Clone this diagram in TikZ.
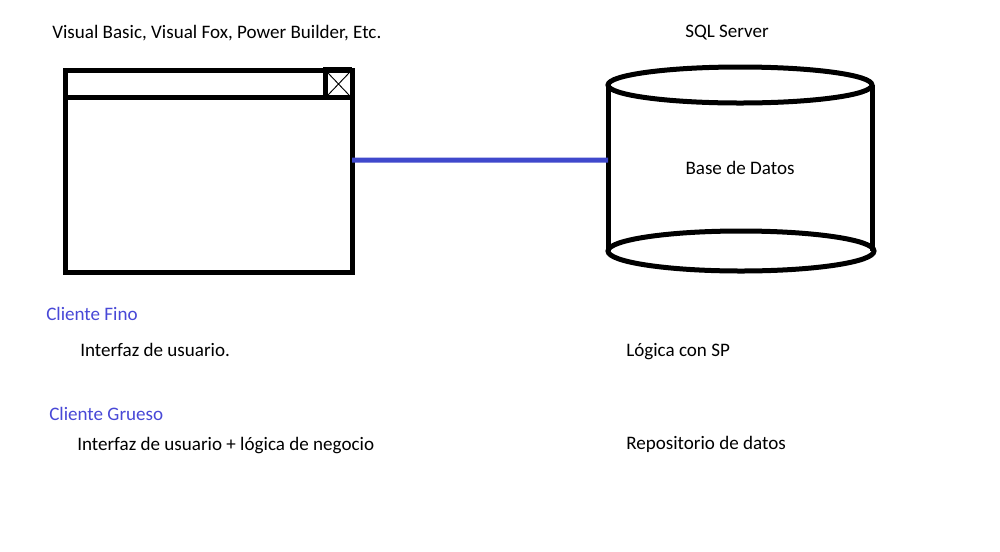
\documentclass[tikz,border=0pt]{standalone}
\usepackage{fontspec}
\setmainfont{Carlito}
\definecolor{indigo}{RGB}{63,72,204}
\definecolor{lblue}{RGB}{72,72,215}
\begin{document}
\begin{tikzpicture}[x=0.75pt,y=-0.75pt,
  thick line/.style={line width=3.75pt},
  lbl/.style={anchor=base west,inner sep=0pt,font=\fontsize{14.3pt}{17pt}\selectfont},
  bluelbl/.style={lbl,text=lblue}]
\useasboundingbox[fill=white] (0,0) rectangle (1000,551);
% window
\node[draw,thick line,minimum width=286.5*0.75pt,minimum height=201.3*0.75pt,inner sep=0pt,outer sep=0pt,anchor=north west] (win) at (65.5,70.7) {};
\draw[thick line] (65.5,97.3) -- (352,97.3);
\draw[thick line] (325,69) -- (325,97.3);
\draw[thick line] (323,69.5) -- (352,69.5);
\draw[line width=0.7pt] (328,73) -- (349,95) (349,73) -- (328,95);
% cylinder
\node[minimum width=264*0.75pt,minimum height=166*0.75pt,inner sep=0pt,outer sep=0pt,lbl,anchor=center] (cyl) at (740,168) {Base de Datos};
\draw[thick line] (740,85) ellipse [x radius=132,y radius=18];
\draw[thick line] (608,85) -- (608,251) (872,85) -- (872,251);
\draw[thick line] (741,251) ellipse [x radius=133,y radius=20];
% connector
\draw[indigo,line width=3.75pt] ([yshift=8.5pt]win.east) -- ([yshift=6pt]cyl.west);
% texts
\node[lbl] (t1) at (52,38) {Visual Basic, Visual Fox, Power Builder, Etc.};
\node[lbl] (t2) at (685,37) {SQL Server};
\node[bluelbl] (t3) at (46,320) {Cliente Fino};
\node[lbl] (t4) at (80,356) {Interfaz de usuario.};
\node[bluelbl] (t5) at (49,420) {Cliente Grueso};
\node[lbl] (t6) at (77,450) {Interfaz de usuario + lógica de negocio};
\node[lbl] (t7) at (626,356) {Lógica con SP};
\node[lbl] (t8) at (626,449) {Repositorio de datos};
\end{tikzpicture}
\end{document}
